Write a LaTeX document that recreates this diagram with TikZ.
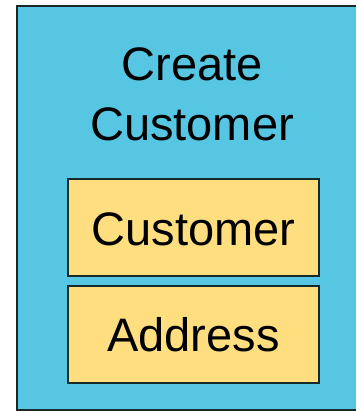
\documentclass[tikz,border=0pt]{standalone}
\usepackage{fontspec}
\setmainfont{Liberation Sans}
\definecolor{panelblue}{RGB}{86,198,226}
\definecolor{partyellow}{RGB}{255,222,128}
\definecolor{edgedark}{RGB}{22,42,42}
\tikzset{
  panel/.style={fill=panelblue, inner sep=0pt, outer sep=0pt, anchor=north west},
  paneledge/.style={draw=edgedark, line width=2pt},
  part/.style={draw=edgedark, fill=partyellow, line width=2pt, inner sep=0pt, outer sep=0pt,
    minimum width=251pt, minimum height=97pt, text height=35.2pt, text depth=0pt,
    font=\fontsize{47}{56}\selectfont},
  heading/.style={align=center, inner sep=0pt, font=\fontsize{47}{60}\selectfont}
}
\begin{document}
\begin{tikzpicture}[x=1pt,y=-1pt]
\useasboundingbox (0,0) rectangle (356,411);
% outer panel: filled body, border on the three sides inside the frame
\node[panel, minimum width=339pt, minimum height=404pt] (panel) at (17,6) {};
\draw[paneledge] (panel.north east) -- (panel.north west) -- (panel.south west) -- (panel.south east);
\node[heading] (title) at (192,94) {Create\\Customer};
\node[part] (customer) at (193.5,227.5) {Customer};
\node[part] (address) at (193.5,334) {Address};
\end{tikzpicture}
\end{document}
